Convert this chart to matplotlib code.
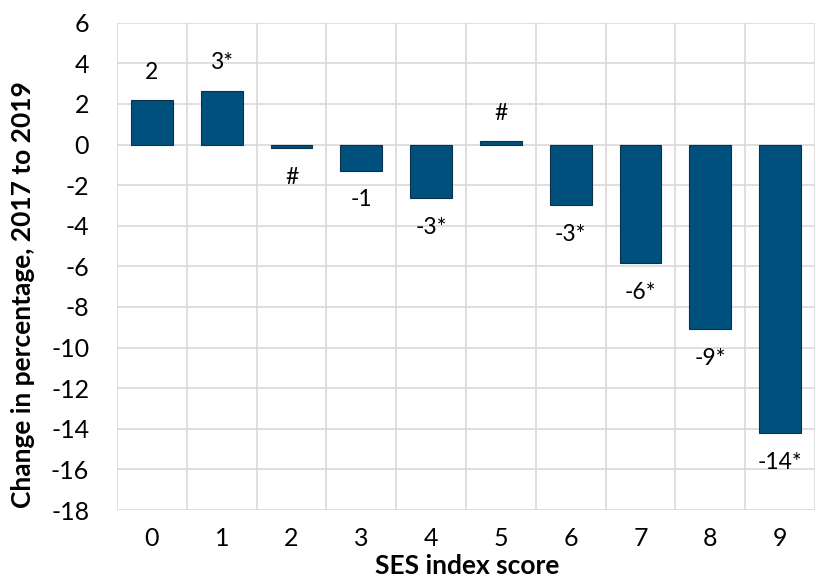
import numpy as np
import matplotlib
matplotlib.use("Agg")
import matplotlib.pyplot as plt

# SES index score categories and change in percentage, 2017 to 2019
scores = ["0", "1", "2", "3", "4", "5", "6", "7", "8", "9"]
change = [2.19, 2.65, -0.19, -1.29, -2.64, 0.15, -2.98, -5.85, -9.09, -14.2]
labels = ["2", "3*", "#", "-1", "-3*", "#", "-3*", "-6*", "-9*", "-14*"]

plt.rcParams["font.family"] = ["Lato", "DejaVu Sans"]
plt.rcParams["axes.unicode_minus"] = False

fig = plt.figure(figsize=(8.16, 5.77), dpi=100)
ax = fig.add_axes([0.1434, 0.1161, 0.8554, 0.8446])

x = np.arange(len(scores))
ax.bar(x, change, width=0.6, color="#00507E", edgecolor="#0D2F48", linewidth=0.8, zorder=3)

# value labels above positive bars, below negative ones
for xi, v, lab in zip(x, change, labels):
    off = 20 if v >= 0 else -21
    ax.annotate(lab, (xi, v), xytext=(0, off), textcoords="offset points",
                ha="center", va="center", fontsize=16.5, color="black")

ax.set_xlim(-0.5, 9.5)
ax.set_ylim(-18, 6)
ax.set_yticks(np.arange(-18, 7, 2))
ax.set_xticks(x)
ax.set_xticklabels(scores)

# gridlines between categories (Excel style)
ax.set_xticks(np.arange(-0.5, 10, 1), minor=True)
ax.grid(True, which="minor", axis="x", color="#D9D9D9", linewidth=1.2, zorder=0)
ax.grid(True, which="major", axis="y", color="#D9D9D9", linewidth=1.2, zorder=0)
ax.tick_params(axis="both", which="both", length=0, labelsize=18)
ax.tick_params(axis="x", pad=12)
ax.tick_params(axis="y", pad=20)
for s in ax.spines.values():
    s.set_visible(False)

ax.set_xlabel("SES index score", fontsize=19, fontweight="bold", va="center")
ax.xaxis.set_label_coords(0.501, -0.1149)
ax.set_ylabel("Change in percentage, 2017 to 2019", fontsize=19, fontweight="bold", va="center")
ax.yaxis.set_label_coords(-0.1347, 0.4422)

fig.savefig("out.png", dpi=100)
